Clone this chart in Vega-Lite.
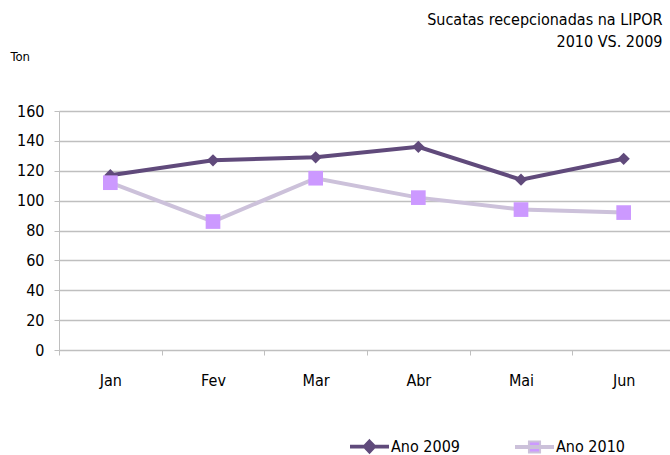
{
  "$schema": "https://vega.github.io/schema/vega-lite/v6.json",
  "autosize": "none",
  "width": 616,
  "height": 239,
  "padding": {"left": 59, "top": 111, "right": -5, "bottom": 105},
  "background": "white",
  "config": {
    "font": "DejaVu Sans Condensed",
    "view": {"stroke": null},
    "axis": {"labelFont": "DejaVu Sans Condensed", "labelFontSize": 16, "labelColor": "#000000", "titleFont": "DejaVu Sans Condensed"},
    "legend": {"labelFont": "DejaVu Sans Condensed"}
  },
  "title": {
    "text": ["Sucatas recepcionadas na LIPOR", "2010 VS. 2009"],
    "anchor": "end",
    "fontSize": 16,
    "fontWeight": "normal",
    "font": "DejaVu Sans Condensed",
    "color": "#000000",
    "offset": 0,
    "lineHeight": 22,
    "dx": -13
  },
  "data": {
    "values": [
      {"mes": "Jan", "serie": "Ano 2009", "ton": 117},
      {"mes": "Fev", "serie": "Ano 2009", "ton": 127},
      {"mes": "Mar", "serie": "Ano 2009", "ton": 129},
      {"mes": "Abr", "serie": "Ano 2009", "ton": 136},
      {"mes": "Mai", "serie": "Ano 2009", "ton": 114},
      {"mes": "Jun", "serie": "Ano 2009", "ton": 128},
      {"mes": "Jan", "serie": "Ano 2010", "ton": 112},
      {"mes": "Fev", "serie": "Ano 2010", "ton": 86},
      {"mes": "Mar", "serie": "Ano 2010", "ton": 115},
      {"mes": "Abr", "serie": "Ano 2010", "ton": 102},
      {"mes": "Mai", "serie": "Ano 2010", "ton": 94},
      {"mes": "Jun", "serie": "Ano 2010", "ton": 92}
    ]
  },
  "encoding": {
    "x": {
      "field": "mes", "type": "nominal", "sort": null,
      "scale": {"type": "band", "paddingInner": 0, "paddingOuter": 0},
      "axis": {
        "title": null, "labelAngle": 0, "tickBand": "extent",
        "domainColor": "#BFBFBF", "tickColor": "#BFBFBF", "tickSize": 5,
        "labelPadding": 17, "grid": false
      }
    },
    "y": {
      "field": "ton", "type": "quantitative",
      "scale": {"domain": [0, 160]},
      "axis": {
        "values": [0, 20, 40, 60, 80, 100, 120, 140, 160],
        "title": "Ton", "titleAngle": 0, "titleX": -49, "titleY": -55,
        "titleAlign": "left", "titleBaseline": "middle", "titleFontSize": 13, "titleFontWeight": "normal", "titleColor": "#000000",
        "domainColor": "#BFBFBF", "tickColor": "#BFBFBF", "tickSize": 5,
        "gridColor": "#BFBFBF", "gridWidth": 1.5, "labelPadding": 10
      }
    }
  },
  "layer": [
    {
      "mark": {"type": "line", "strokeWidth": 4},
      "encoding": {
        "color": {
          "field": "serie", "type": "nominal",
          "scale": {"domain": ["Ano 2009", "Ano 2010"], "range": ["#604A7B", "#CCC1DA"]},
          "legend": {
            "title": null, "orient": "none", "direction": "horizontal",
            "legendX": 291, "legendY": 316,
            "symbolSize": 1369, "symbolStrokeWidth": 2,
            "labelFontSize": 16, "labelColor": "#000000", "labelOffset": 2,
            "columnPadding": 52,
            "encode": {
              "symbols": {
                "update": {
                  "shape": {"signal": "datum.value === 'Ano 2009' ? 'M-1,-0.05H1V0.05H-1ZM0,-0.34L0.32,0L0,0.34L-0.32,0Z' : 'M-1,-0.05H1V0.05H-1ZM-0.3,-0.3H0.3V0.3H-0.3Z'"},
                  "size": {"value": 1369},
                  "fill": {"signal": "datum.value === 'Ano 2009' ? '#604A7B' : '#CC99FF'"},
                  "fillOpacity": {"value": 1},
                  "stroke": {"signal": "datum.value === 'Ano 2009' ? '#604A7B' : '#CCC1DA'"},
                  "strokeOpacity": {"value": 1},
                  "opacity": {"value": 1},
                  "strokeWidth": {"value": 2}
                }
              }
            }
          }
        }
      }
    },
    {
      "mark": {"type": "point", "filled": true, "opacity": 1},
      "encoding": {
        "shape": {"condition": {"test": "datum.serie === 'Ano 2009'", "value": "diamond"}, "value": "square"},
        "size": {"condition": {"test": "datum.serie === 'Ano 2009'", "value": 150}, "value": 215},
        "fill": {"condition": {"test": "datum.serie === 'Ano 2009'", "value": "#604A7B"}, "value": "#CC99FF"}
      }
    }
  ]
}
